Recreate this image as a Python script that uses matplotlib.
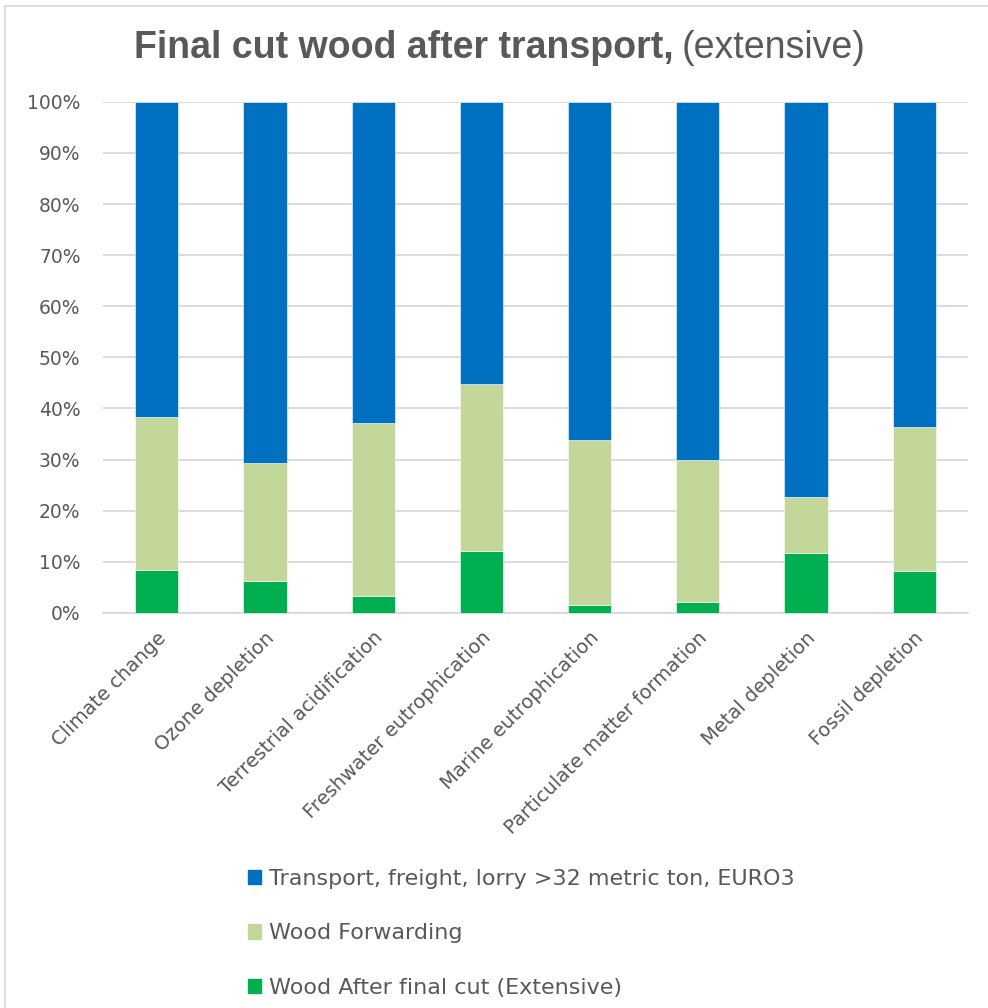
import matplotlib.pyplot as plt
import numpy as np
from matplotlib.patches import Rectangle, Patch
from matplotlib.ticker import PercentFormatter

categories = ["Climate change", "Ozone depletion", "Terrestrial acidification",
              "Freshwater eutrophication", "Marine eutrophication",
              "Particulate matter formation", "Metal depletion", "Fossil depletion"]

# shares in percent, bottom to top of each stack
after_cut = [8.4, 6.3, 3.3, 12.1, 1.6, 2.2, 11.8, 8.2]
forwarding = [30.0, 23.1, 33.9, 32.7, 32.3, 27.8, 10.9, 28.2]
transport = [61.6, 70.6, 62.8, 55.2, 66.1, 70.0, 77.3, 63.6]

series_names = ["Transport, freight, lorry >32 metric ton, EURO3",
                "Wood Forwarding",
                "Wood After final cut (Extensive)"]

c_transport = "#0070C0"
c_forward = "#C4D79B"
c_cut = "#00B050"
grey_text = "#595959"

fig = plt.figure(figsize=(9.88, 10.08), dpi=100)
ax = fig.add_axes([0.104, 0.392, 0.876, 0.507])

x = np.arange(len(categories))
w = 0.4
ax.bar(x, after_cut, w, color=c_cut, edgecolor="white", linewidth=0.4, zorder=3)
ax.bar(x, forwarding, w, bottom=after_cut, color=c_forward,
       edgecolor="white", linewidth=0.4, zorder=3)
bottom2 = np.array(after_cut) + np.array(forwarding)
ax.bar(x, transport, w, bottom=bottom2, color=c_transport,
       edgecolor="white", linewidth=0.4, zorder=3)

ax.set_xlim(-0.5, len(categories) - 0.5)
ax.set_ylim(0, 100)
ax.set_yticks(np.arange(0, 101, 10))
ax.yaxis.set_major_formatter(PercentFormatter(decimals=0))
ax.yaxis.grid(True, color="#D9D9D9", linewidth=1.3, zorder=0)
ax.set_axisbelow(True)
for s in ["top", "right", "left"]:
    ax.spines[s].set_visible(False)
ax.spines["bottom"].set_color("#D9D9D9")
ax.spines["bottom"].set_linewidth(1.3)
ax.tick_params(axis="both", length=0, labelcolor=grey_text)
ax.tick_params(axis="y", pad=16, labelsize=13.5)
ax.set_xticks(x)
ax.set_xticklabels(categories, rotation=45, ha="right", rotation_mode="anchor",
                   fontsize=14)
ax.tick_params(axis="x", pad=11)

fig.text(0.682, 0.952, "Final cut wood after transport,", ha="right", va="center",
         fontsize=27, fontweight="bold", color=grey_text, family="Liberation Sans")
fig.text(0.690, 0.952, "(extensive)", ha="left", va="center",
         fontsize=27, color=grey_text, family="Liberation Sans")

handles = [Patch(color=c_transport), Patch(color=c_forward), Patch(color=c_cut)]
fig.legend(handles, series_names, loc="upper left", bbox_to_anchor=(0.251, 0.138),
           frameon=False, fontsize=16, labelcolor=grey_text, handlelength=0.6,
           handleheight=0.6, handletextpad=0.35, labelspacing=1.55,
           borderaxespad=0, borderpad=0)

fig.patches.append(Rectangle((0.005, -0.01), 1.1, 1.004, transform=fig.transFigure,
                             fill=False, edgecolor="#D9D9D9", linewidth=1.2))

fig.savefig("out.png", dpi=100)
